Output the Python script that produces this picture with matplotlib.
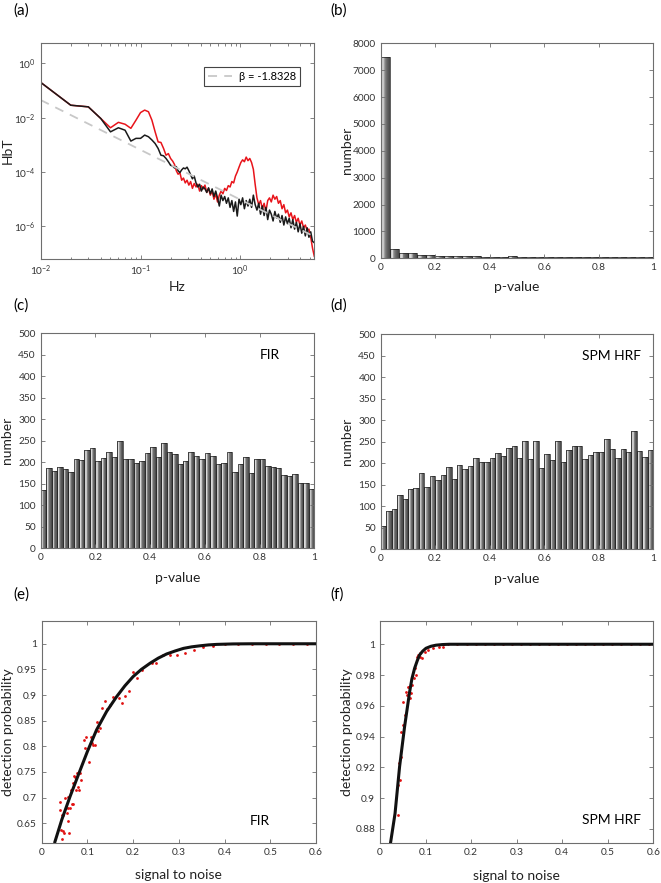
import numpy as np
import matplotlib
matplotlib.use("Agg")
import matplotlib.pyplot as plt
from matplotlib.ticker import LogLocator, NullLocator, FixedLocator, FormatStrFormatter

plt.rcParams['font.family'] = ['Lato', 'DejaVu Sans']

# ---- (a) spectra, log10 of power ----
f_low = [0.01, 0.02, 0.03, 0.04, 0.05, 0.06, 0.07, 0.08, 0.09, 0.10,
         0.11, 0.12, 0.13, 0.14, 0.15, 0.16, 0.17, 0.18, 0.19, 0.20]
black_low = [-0.70, -1.54, -1.60, -2.03, -2.52, -2.37, -2.46, -2.86, -2.76, -2.76,
             -2.64, -2.70, -2.82, -2.95, -3.13, -3.38, -3.40, -3.50, -3.62, -3.75]
red_low = [-0.70, -1.54, -1.60, -2.03, -2.37, -2.17, -2.24, -2.39, -2.09, -1.81,
           -1.72, -1.78, -2.09, -2.52, -2.89, -2.91, -3.13, -3.38, -3.32, -3.50]
f_high = np.geomspace(0.21, 5.5, 80)
black_high = [-3.78, -3.85, -3.80, -3.95, -4.02, -3.92, -3.85, -3.88, -3.82, -3.95,
              -4.10, -4.25, -4.15, -4.40, -4.55, -4.45, -4.70, -4.55, -4.62, -4.75,
              -4.58, -4.80, -4.62, -4.90, -4.70, -4.95, -5.25, -4.85, -5.05, -4.90,
              -5.15, -4.95, -5.30, -5.05, -5.45, -5.10, -5.62, -5.00, -5.20, -4.95,
              -5.35, -5.05, -5.25, -5.00, -5.30, -4.85, -5.20, -5.40, -5.15, -5.55,
              -5.25, -5.60, -5.30, -5.75, -5.40, -5.55, -5.80, -5.45, -5.70, -5.55,
              -5.85, -5.60, -5.95, -5.65, -5.90, -5.70, -6.05, -5.75, -6.10, -5.85,
              -6.20, -5.90, -6.25, -6.00, -6.35, -6.05, -6.40, -6.20, -6.55, -6.60]
red_high = [-3.60, -3.72, -3.95, -4.08, -4.02, -4.30, -4.22, -4.40, -4.30, -4.48,
            -4.35, -4.60, -4.42, -4.55, -4.45, -4.70, -4.50, -4.62, -4.48, -4.75,
            -4.60, -4.85, -4.70, -5.00, -4.80, -5.10, -4.85, -4.70, -4.80, -4.60,
            -4.68, -4.50, -4.55, -4.35, -4.40, -4.15, -4.00, -3.82, -3.65, -3.55,
            -3.62, -3.45, -3.58, -3.50, -3.65, -3.90, -4.45, -4.95, -5.20, -5.05,
            -5.35, -5.15, -5.45, -5.05, -4.95, -5.10, -4.85, -5.00, -4.90, -5.15,
            -5.05, -5.35, -5.20, -5.50, -5.40, -5.65, -5.50, -5.75, -5.60, -5.85,
            -5.70, -5.95, -5.80, -6.05, -5.95, -6.15, -6.10, -6.40, -6.80, -7.10]
beta = -1.8328
fit_log_at_001 = -1.35
fit_f = [0.01, 5.5]

# ---- (b) p-value histogram ----
b_counts = [7500, 340, 200, 180, 120, 110, 90, 80, 75, 75, 70, 65, 65, 60, 75,
            55, 50, 60, 50, 45, 45, 65, 45, 45, 45, 60, 60, 55, 50, 45]

# ---- (c) FIR, (d) SPM HRF histograms ----
c_counts = [135, 186, 180, 189, 184, 178, 207, 205, 228, 233, 202, 210, 223, 212, 249,
            207, 207, 198, 204, 221, 235, 212, 246, 225, 219, 195, 204, 224, 215, 208,
            221, 214, 196, 198, 225, 177, 195, 212, 174, 208, 208, 191, 189, 187, 170,
            167, 173, 152, 152, 138]
d_counts = [55, 90, 94, 127, 118, 140, 143, 177, 145, 170, 162, 173, 192, 163, 196,
            187, 194, 212, 203, 203, 212, 224, 217, 236, 240, 213, 252, 210, 252, 189,
            222, 208, 252, 203, 230, 240, 240, 210, 220, 226, 226, 256, 233, 212, 233,
            226, 274, 228, 215, 231]

# ---- (e) FIR detection ----
e_snr = [0.040, 0.039, 0.044, 0.047, 0.042, 0.047, 0.044, 0.049, 0.051, 0.054,
         0.055, 0.058, 0.058, 0.060, 0.057, 0.062, 0.063, 0.066, 0.068, 0.069,
         0.071, 0.073, 0.075, 0.078, 0.080, 0.082, 0.084, 0.087, 0.093, 0.097,
         0.095, 0.104, 0.107, 0.109, 0.113, 0.117, 0.120, 0.124, 0.128, 0.131,
         0.138, 0.142, 0.149, 0.155, 0.168, 0.175, 0.182, 0.190, 0.199, 0.208,
         0.219, 0.241, 0.251, 0.266, 0.281, 0.297, 0.313, 0.333, 0.353, 0.375,
         0.40, 0.43, 0.46, 0.49, 0.52, 0.55, 0.58]
e_prob = [0.691, 0.675, 0.666, 0.666, 0.637, 0.634, 0.619, 0.631, 0.700, 0.679,
          0.669, 0.679, 0.655, 0.630, 0.702, 0.679, 0.714, 0.688, 0.728, 0.688,
          0.743, 0.741, 0.714, 0.747, 0.721, 0.715, 0.747, 0.734, 0.812, 0.819,
          0.797, 0.770, 0.818, 0.806, 0.803, 0.803, 0.848, 0.829, 0.835, 0.874,
          0.889, 0.872, 0.881, 0.897, 0.895, 0.884, 0.899, 0.908, 0.945, 0.934,
          0.949, 0.962, 0.962, 0.979, 0.978, 0.979, 0.982, 0.988, 0.994, 0.995,
          0.999, 1.0, 1.0, 1.0, 1.0, 1.0, 1.0]
e_fit_x = [0.029, 0.044, 0.062, 0.080, 0.100, 0.120, 0.142, 0.164, 0.182, 0.200,
           0.218, 0.237, 0.255, 0.273, 0.292, 0.310, 0.328, 0.346, 0.365, 0.383,
           0.419, 0.46, 0.6]
e_fit_y = [0.614, 0.657, 0.702, 0.744, 0.790, 0.832, 0.868, 0.897, 0.918, 0.936,
           0.950, 0.962, 0.972, 0.980, 0.986, 0.991, 0.994, 0.996, 0.9978, 0.9988,
           0.9997, 1.0, 1.0]

# ---- (f) SPM HRF detection ----
f_snr = [0.040, 0.040, 0.045, 0.042, 0.046, 0.047, 0.051, 0.051, 0.054, 0.057,
         0.059, 0.062, 0.064, 0.065, 0.069, 0.071, 0.074, 0.077, 0.078, 0.081,
         0.083, 0.087, 0.088, 0.093, 0.098, 0.105, 0.116, 0.130, 0.138,
         0.15, 0.17, 0.19, 0.21, 0.23, 0.25, 0.27, 0.29, 0.31, 0.33, 0.35, 0.37,
         0.39, 0.41, 0.43, 0.45, 0.47, 0.49, 0.51, 0.53, 0.55, 0.57, 0.59]
f_prob = [0.889, 0.9086, 0.9119, 0.9227, 0.927, 0.9433, 0.9476, 0.9627, 0.9541, 0.9692,
          0.9671, 0.9725, 0.9721, 0.9649, 0.9686, 0.9736, 0.9779, 0.9844, 0.9801, 0.992,
          0.9931, 0.992, 0.9942, 0.9909, 0.9952, 0.9963, 0.9974, 0.998, 0.9985,
          1.0, 1.0, 1.0, 1.0, 1.0, 1.0, 1.0, 1.0, 1.0, 1.0, 1.0, 1.0,
          1.0, 1.0, 1.0, 1.0, 1.0, 1.0, 1.0, 1.0, 1.0, 1.0, 1.0]
f_fit_x = [0.023, 0.033, 0.043, 0.054, 0.065, 0.070, 0.076, 0.082, 0.087, 0.094,
           0.101, 0.112, 0.123, 0.137, 0.152, 0.6]
f_fit_y = [0.8707, 0.890, 0.9205, 0.9465, 0.969, 0.9775, 0.9844, 0.9895, 0.9931, 0.9956,
           0.9974, 0.9987, 0.9994, 0.9998, 1.0, 1.0]

W, H = 661, 883
fig = plt.figure(figsize=(W / 100, H / 100), dpi=100)


def make_ax(l, r, t, b):
    return fig.add_axes([l / W, 1 - b / H, (r - l) / W, (b - t) / H])


def style(ax):
    for s in ax.spines.values():
        s.set_color('#6e6e6e')
        s.set_linewidth(0.8)
    ax.tick_params(which='both', direction='in', top=True, right=True,
                   labelsize=7.3, labelcolor='#333333', color='#6e6e6e', width=0.6)
    ax.tick_params(which='major', length=3)
    ax.tick_params(which='minor', length=1.8)


def labels(ax, xl, yl, xoff):
    ax.set_xlabel(xl, fontsize=10, color='#222222')
    ax.set_ylabel(yl, fontsize=10, color='#222222')
    ax.xaxis.set_label_coords(0.5, xoff)
    ax.yaxis.set_label_coords(-0.1, 0.5)


def shaded_bars(ax, counts):
    n = len(counts)
    w = 1.0 / n
    left = np.arange(n) * w
    shades = [0.55, 0.80, 0.86, 0.78, 0.62, 0.50, 0.43, 0.38, 0.34, 0.30]
    k = len(shades)
    for i, g in enumerate(shades):
        ax.bar(left + i * w / k, counts, width=w / k, align='edge',
               color=str(g), linewidth=0)
    ax.bar(left, counts, width=w, align='edge', fill=False,
           edgecolor='#1e1e1e', linewidth=0.5)
    ax.set_xlim(0, 1)
    ax.set_xticks([0, 0.2, 0.4, 0.6, 0.8, 1])
    ax.xaxis.set_major_formatter(FormatStrFormatter('%g'))


# (a)
ax = make_ax(40.7, 314.3, 43, 259)
ax.plot(f_low + list(f_high), 10 ** np.array(red_low + red_high), color='#e8141b', lw=1.1)
ax.plot(f_low + list(f_high), 10 ** np.array(black_low + black_high), color='#1a1a1a', lw=1.1)
fit_y = [10 ** (fit_log_at_001 + beta * np.log10(x / 0.01)) for x in fit_f]
ax.plot(fit_f, fit_y, color='#c8c8c8', lw=1.3, ls=(0, (5, 4)),
        label='\u03b2 = -1.8328')
ax.set_xscale('log')
ax.set_yscale('log')
ax.set_xlim(0.01, 5.5)
ax.set_ylim(10 ** -7.2, 10 ** 0.75)
ax.yaxis.set_major_locator(FixedLocator([1e-6, 1e-4, 1e-2, 1e0]))
ax.yaxis.set_minor_locator(NullLocator())
ax.xaxis.set_major_locator(LogLocator(base=10))
ax.xaxis.set_minor_locator(LogLocator(base=10, subs=np.arange(2, 10)))
style(ax)
labels(ax, 'Hz', 'HbT', -0.1)
leg = ax.legend(loc='upper right', bbox_to_anchor=(0.968, 0.915), fontsize=8,
                fancybox=False, framealpha=1, edgecolor='#444444',
                handlelength=2.2, handletextpad=0.6, borderpad=0.35)
leg.get_frame().set_linewidth(0.8)

# (b)
ax = make_ax(380.7, 653.3, 43.3, 258.3)
shaded_bars(ax, b_counts)
ax.set_ylim(0, 8000)
ax.set_yticks(range(0, 8001, 1000))
style(ax)
labels(ax, 'p-value', 'number', -0.105)

# (c)
ax = make_ax(40.7, 314.3, 333.3, 548.3)
shaded_bars(ax, c_counts)
ax.set_ylim(0, 500)
ax.set_yticks(range(0, 501, 50))
style(ax)
labels(ax, 'p-value', 'number', -0.11)
ax.text(0.80, 0.9, 'FIR', transform=ax.transAxes, fontsize=10, va='center')

# (d)
ax = make_ax(380.7, 653.3, 334.3, 549.3)
shaded_bars(ax, d_counts)
ax.set_ylim(0, 500)
ax.set_yticks(range(0, 501, 50))
style(ax)
labels(ax, 'p-value', 'number', -0.11)
ax.text(0.738, 0.9, 'SPM HRF', transform=ax.transAxes, fontsize=10, va='center')

# (e)
ax = make_ax(41.7, 316, 620.7, 842.7)
ax.scatter(e_snr, e_prob, s=4, color='#e01010', linewidths=0, zorder=2)
ax.plot(e_fit_x, e_fit_y, color='#111111', lw=2.2, zorder=3)
ax.set_xlim(0, 0.6)
ax.set_ylim(0.612, 1.045)
ax.set_yticks([0.65, 0.7, 0.75, 0.8, 0.85, 0.9, 0.95, 1.0])
ax.yaxis.set_major_formatter(FormatStrFormatter('%g'))
ax.xaxis.set_major_formatter(FormatStrFormatter('%g'))
style(ax)
labels(ax, 'signal to noise', 'detection probability', -0.12)
ax.text(0.76, 0.10, 'FIR', transform=ax.transAxes, fontsize=10, va='center')

# (f)
ax = make_ax(380, 653.3, 620.7, 843.3)
ax.scatter(f_snr, f_prob, s=4, color='#e01010', linewidths=0, zorder=2)
ax.plot(f_fit_x, f_fit_y, color='#111111', lw=2.2, zorder=3)
ax.set_xlim(0, 0.6)
ax.set_ylim(0.8707, 1.0153)
ax.set_yticks([0.88, 0.9, 0.92, 0.94, 0.96, 0.98, 1.0])
ax.yaxis.set_major_formatter(FormatStrFormatter('%g'))
ax.xaxis.set_major_formatter(FormatStrFormatter('%g'))
style(ax)
labels(ax, 'signal to noise', 'detection probability', -0.12)
ax.text(0.738, 0.105, 'SPM HRF', transform=ax.transAxes, fontsize=10, va='center')

# panel letters
for lab, x, y in [('(a)', 13, 11), ('(b)', 330, 11), ('(c)', 13, 306),
                  ('(d)', 330, 306), ('(e)', 13, 595), ('(f)', 330, 595)]:
    fig.text(x / W, 1 - y / H, lab, fontsize=11, va='center', ha='left')

fig.savefig('out.png', dpi=100)
